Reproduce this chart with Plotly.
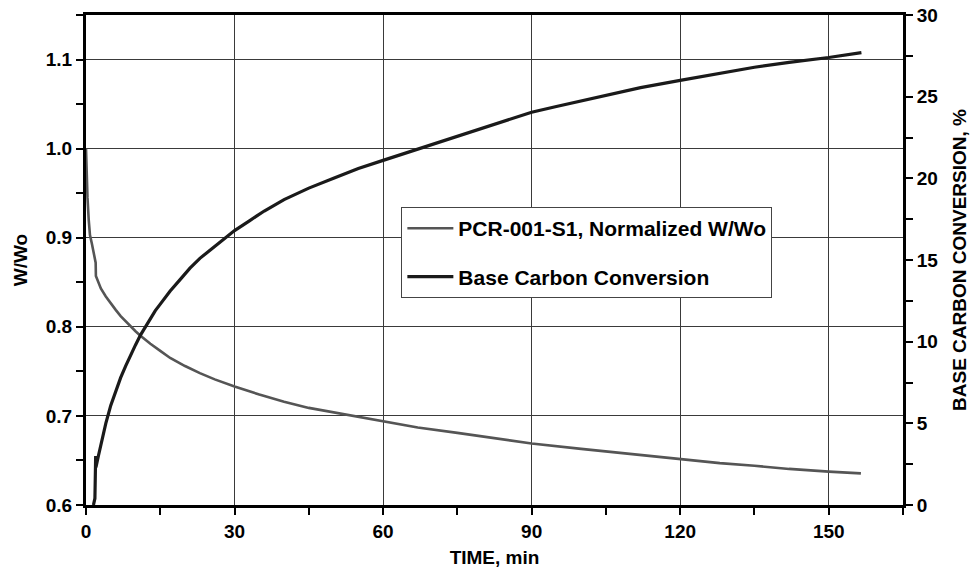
import plotly.graph_objects as go

# W/Wo (left axis) - gray curve
t_wwo = [0, 0.1, 0.3, 0.55, 0.8, 1.2, 1.6, 1.95, 2.0, 2.5, 3, 4, 5, 6, 7, 8, 9, 10, 11, 12, 13,
         15, 17, 20, 23, 26, 30, 35, 40, 45, 50, 55, 60, 67, 75, 82, 90, 100, 112, 120, 128,
         135, 142, 150, 156.5]
wwo = [1.0, 0.975, 0.945, 0.92, 0.903, 0.893, 0.882, 0.872, 0.857, 0.849, 0.843, 0.834, 0.826,
       0.819, 0.812, 0.806, 0.800, 0.795, 0.790, 0.785, 0.781, 0.773, 0.765, 0.756, 0.748,
       0.741, 0.733, 0.724, 0.716, 0.709, 0.704, 0.699, 0.694, 0.687, 0.681, 0.675, 0.669,
       0.663, 0.656, 0.651, 0.647, 0.644, 0.6405, 0.6375, 0.6355]

# base carbon conversion, % (right axis) - black curve
t_bc = [1.5, 1.8, 1.95, 2.0, 2.5, 3, 4, 5, 6, 7, 8, 9, 10, 11, 12, 13, 14, 15, 17, 19, 21, 23,
        25, 27, 30, 33, 36, 40, 45, 50, 55, 60, 65, 70, 75, 80, 85, 90, 95, 100, 106, 112, 120,
        128, 135, 142, 150, 156.6]
bc = [0, 0.4, 3.0, 2.3, 3.0, 3.7, 5.0, 6.1, 7.0, 7.8, 8.5, 9.2, 9.8, 10.4, 10.9, 11.4, 11.9,
      12.3, 13.1, 13.8, 14.5, 15.1, 15.6, 16.1, 16.8, 17.4, 18.0, 18.7, 19.4, 20.0, 20.6, 21.1,
      21.6, 22.1, 22.6, 23.05, 23.55, 24.05, 24.4, 24.75, 25.15, 25.55, 26.0, 26.45, 26.8,
      27.1, 27.4, 27.7]

FONT = "Liberation Sans, Arial, sans-serif"

fig = go.Figure()
fig.add_trace(go.Scatter(x=t_wwo, y=wwo, mode="lines", name="PCR-001-S1, Normalized W/Wo",
                         legendgroup="a", line=dict(color="#555555", width=2.6)))
fig.add_trace(go.Scatter(x=t_bc, y=bc, mode="lines", name="Base Carbon Conversion",
                         legendgroup="b", yaxis="y2", line=dict(color="#1a1a1a", width=3.2)))

tickstyle = dict(ticks="outside", ticklen=7, tickwidth=2, tickcolor="black", automargin=False,
                 showline=True, linewidth=3, linecolor="black", zeroline=False)

fig.update_layout(
    width=971, height=580,
    margin=dict(l=86, r=68, t=15, b=75),
    plot_bgcolor="white", paper_bgcolor="white",
    font=dict(family=FONT, size=19, color="black", weight="bold"),
    xaxis=dict(range=[0, 165], tick0=0, dtick=30, mirror=True,
               showgrid=True, gridcolor="#3a3a3a", gridwidth=1,
               minor=dict(dtick=15, ticks="outside", ticklen=7, tickwidth=2, tickcolor="black", showgrid=False),
               title=dict(text="TIME, min", standoff=10, font=dict(size=19)), **tickstyle),
    yaxis=dict(range=[0.6, 1.15], tick0=0.6, dtick=0.1, tickformat=".1f",
               showgrid=True, gridcolor="#3a3a3a", gridwidth=1,
               minor=dict(dtick=0.05, ticks="outside", ticklen=7, tickwidth=2, tickcolor="black", showgrid=False),
               title=dict(text="W/Wo", standoff=14, font=dict(size=19)), **tickstyle),
    yaxis2=dict(range=[0, 30], tick0=0, dtick=5, overlaying="y", side="right", showgrid=False,
                minor=dict(dtick=2.5, ticks="outside", ticklen=7, tickwidth=2, tickcolor="black", showgrid=False),
                title=dict(text="BASE CARBON CONVERSION, %", standoff=16, font=dict(size=19)), **tickstyle),
    showlegend=True,
    legend=dict(x=0.386, y=0.608, xanchor="left", yanchor="top", bgcolor="white",
                bordercolor="#444444", borderwidth=1, tracegroupgap=18, itemwidth=46,
                font=dict(size=21, family=FONT, weight="bold")),
)

# page body has a default 8px margin; drop it so the figure fills the window
fig.write_html("out.html", config={"displayModeBar": False},
               post_script="document.body.style.margin='0';")
